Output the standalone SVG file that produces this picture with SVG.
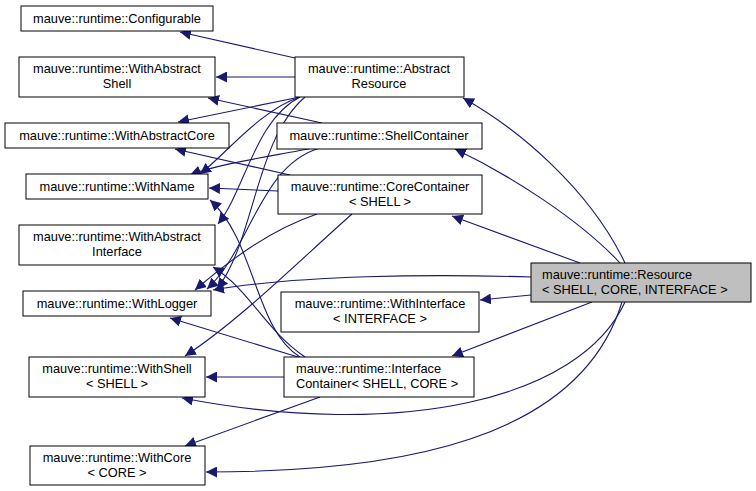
<svg xmlns="http://www.w3.org/2000/svg" width="756" height="491" viewBox="0 0 756 491">
<style>
.n rect{fill:#fff;stroke:#000;stroke-width:1}
.n text{font-family:"Liberation Sans",Arial,sans-serif;font-size:12.8px;text-anchor:middle;fill:#000}
.e path{fill:none;stroke:#191970;stroke-width:1.1}
</style>
<defs>
<marker id="a" viewBox="0 0 10 10" refX="10" refY="5" markerWidth="11" markerHeight="11" markerUnits="userSpaceOnUse" orient="auto">
<path d="M0,0 L10,5 L0,10 z" fill="#191970"/>
</marker>
</defs>
<rect width="756" height="491" fill="#fff"/>
<g class="e">
<path d="M295,58 L180,32" marker-end="url(#a)"/>
<path d="M295,77 L216,77" marker-end="url(#a)"/>
<path d="M322,123 L208,98" marker-end="url(#a)"/>
<path d="M300,97 L178,122" marker-end="url(#a)"/>
<path d="M290,175 L175,149" marker-end="url(#a)"/>
<path d="M300,97 C260,110 225,155 200,174" marker-end="url(#a)"/>
<path d="M313,148 C280,155 220,163 190,175" marker-end="url(#a)"/>
<path d="M278,191 L209,188" marker-end="url(#a)"/>
<path d="M300,97 C255,120 245,190 218,224" marker-end="url(#a)"/>
<path d="M305,97 C255,140 255,240 217,289" marker-end="url(#a)"/>
<path d="M320,148 C260,165 250,250 207,289" marker-end="url(#a)"/>
<path d="M317,214 C270,230 230,260 195,290" marker-end="url(#a)"/>
<path d="M531,277 C430,274 300,275 213,290" marker-end="url(#a)"/>
<path d="M352,214 C300,260 240,320 185,356" marker-end="url(#a)"/>
<path d="M305,357 C265,330 250,290 213,267" marker-end="url(#a)"/>
<path d="M300,357 C255,330 255,240 210,200" marker-end="url(#a)"/>
<path d="M298,357 L170,318" marker-end="url(#a)"/>
<path d="M284,377 L206,377" marker-end="url(#a)"/>
<path d="M320,397 L185,446" marker-end="url(#a)"/>
<path d="M625,263 C590,190 520,130 463,98" marker-end="url(#a)"/>
<path d="M620,263 C580,220 510,175 455,149" marker-end="url(#a)"/>
<path d="M580,263 L452,216" marker-end="url(#a)"/>
<path d="M531,295 L480,300" marker-end="url(#a)"/>
<path d="M592,302 L452,356" marker-end="url(#a)"/>
<path d="M625,302 C580,400 400,440 182,398" marker-end="url(#a)"/>
<path d="M622,302 C580,440 400,472 206,472" marker-end="url(#a)"/>
</g>
<g class="n" id="configurable"><rect x="21" y="6" width="192" height="25"/><text x="117" y="23">mauve::runtime::Configurable</text></g>
<g class="n" id="withabstractshell"><rect x="19" y="57" width="196" height="40"/><text x="117" y="73">mauve::runtime::WithAbstract</text><text x="117" y="88">Shell</text></g>
<g class="n" id="withabstractcore"><rect x="5" y="123" width="224" height="25"/><text x="117" y="140">mauve::runtime::WithAbstractCore</text></g>
<g class="n" id="withname"><rect x="26" y="174" width="182" height="25"/><text x="117" y="191">mauve::runtime::WithName</text></g>
<g class="n" id="withabstractinterface"><rect x="19" y="225" width="196" height="40"/><text x="117" y="241">mauve::runtime::WithAbstract</text><text x="117" y="256">Interface</text></g>
<g class="n" id="withlogger"><rect x="23" y="291" width="188" height="25"/><text x="117" y="308">mauve::runtime::WithLogger</text></g>
<g class="n" id="withshell"><rect x="29" y="357" width="176" height="40"/><text x="117" y="373">mauve::runtime::WithShell</text><text x="117" y="388">&lt; SHELL &gt;</text></g>
<g class="n" id="withcore"><rect x="30" y="446" width="175" height="39"/><text x="117" y="462">mauve::runtime::WithCore</text><text x="117" y="477">&lt; CORE &gt;</text></g>
<g class="n" id="abstractresource"><rect x="295" y="57" width="169" height="40"/><text x="379" y="73">mauve::runtime::Abstract</text><text x="379" y="88">Resource</text></g>
<g class="n" id="shellcontainer"><rect x="277" y="123" width="205" height="26"/><text x="379" y="140">mauve::runtime::ShellContainer</text></g>
<g class="n" id="corecontainer"><rect x="278" y="175" width="204" height="39"/><text x="380" y="191">mauve::runtime::CoreContainer</text><text x="380" y="206">&lt; SHELL &gt;</text></g>
<g class="n" id="withinterface"><rect x="281" y="292" width="198" height="40"/><text x="380" y="308">mauve::runtime::WithInterface</text><text x="380" y="323">&lt; INTERFACE &gt;</text></g>
<g class="n" id="interfacecontainer"><rect x="284" y="357" width="190" height="40"/><text x="296" y="373" style="text-anchor:start">mauve::runtime::Interface</text><text x="296" y="388" style="text-anchor:start">Container&lt; SHELL, CORE &gt;</text></g>
<g class="n" id="resource"><rect x="531" y="263" width="220" height="39" style="fill:#bfbfbf"/><text x="542" y="279" style="text-anchor:start">mauve::runtime::Resource</text><text x="542" y="294" style="text-anchor:start">&lt; SHELL, CORE, INTERFACE &gt;</text></g>
</svg>
